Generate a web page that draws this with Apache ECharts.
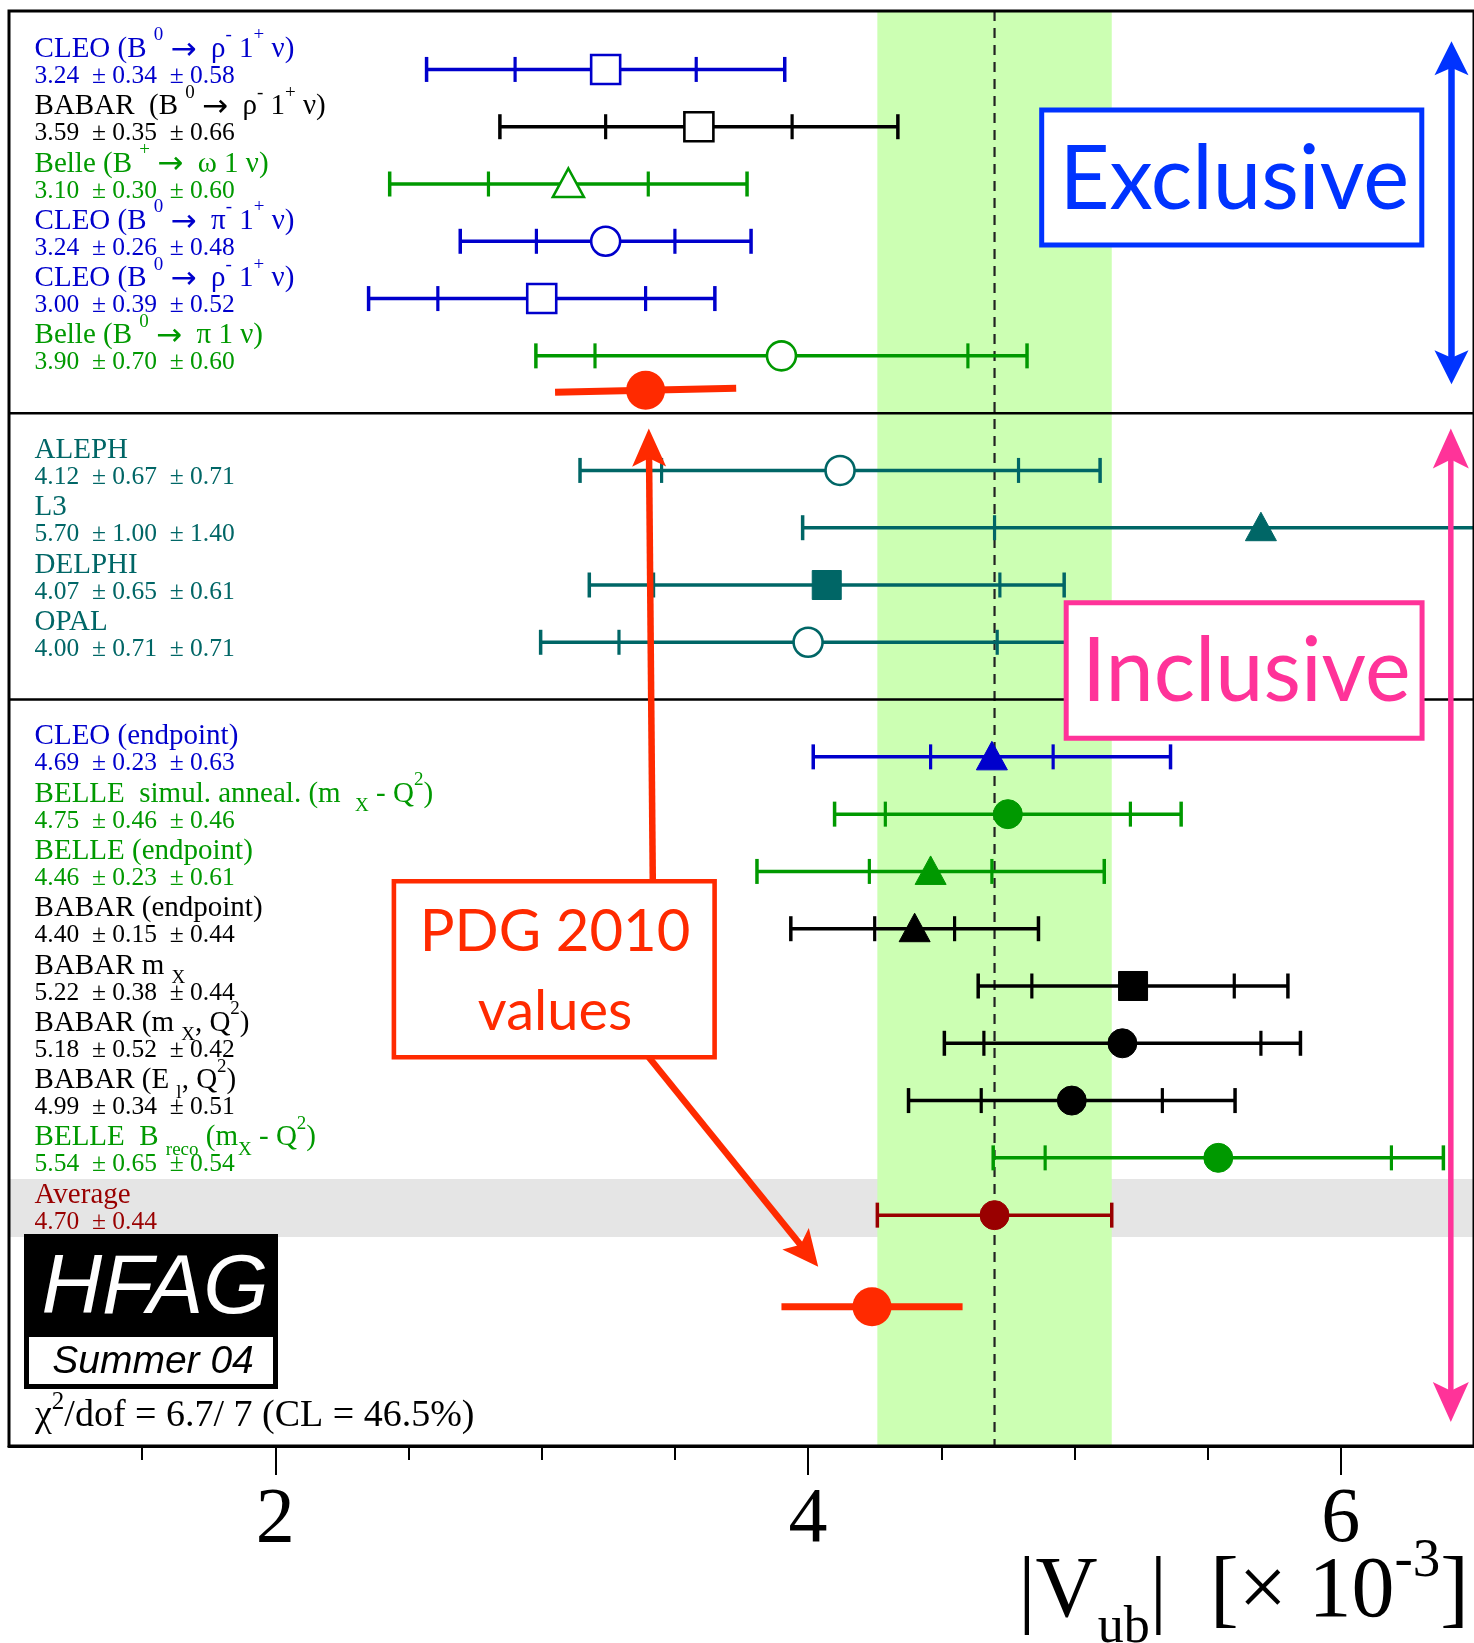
<!DOCTYPE html>
<html>
<head>
<meta charset="utf-8">
<title>|Vub| summary</title>
<script src="https://cdn.jsdelivr.net/npm/echarts@6/dist/echarts.min.js"></script>
<style>
  html, body { margin: 0; padding: 0; background: #fff; }
  #chart { width: 1474px; height: 1643px; }
</style>
</head>
<body>
<div id="chart"></div>
<script>
// ---- measurements (|Vub| in units of 10^-3: central, stat, syst) ----
const exclusiveNames = [
  'CLEO (B {s|0} {a|→}  ρ{s|-} 1{s|+} ν)',
  'BABAR  (B {s|0} {a|→}  ρ{s|-} 1{s|+} ν)',
  'Belle (B {s|+} {a|→}  ω 1 ν)',
  'CLEO (B {s|0} {a|→}  π{s|-} 1{s|+} ν)',
  'CLEO (B {s|0} {a|→}  ρ{s|-} 1{s|+} ν)',
  'Belle (B {s|0} {a|→}  π 1 ν)'
];
const exclusiveCentral = [3.24, 3.59, 3.10, 3.24, 3.00, 3.90];
const exclusiveStat    = [0.34, 0.35, 0.30, 0.26, 0.39, 0.70];
const exclusiveSyst    = [0.58, 0.66, 0.60, 0.48, 0.52, 0.60];

const lepNames   = ['ALEPH', 'L3', 'DELPHI', 'OPAL'];
const lepCentral = [4.12, 5.70, 4.07, 4.00];
const lepStat    = [0.67, 1.00, 0.65, 0.71];
const lepSyst    = [0.71, 1.40, 0.61, 0.71];

const bfactoryNames = [
  'CLEO (endpoint)',
  'BELLE  simul. anneal. (m  {b|X} - Q{s|2})',
  'BELLE (endpoint)',
  'BABAR (endpoint)',
  'BABAR m {b|X}',
  'BABAR (m {b|X}, Q{s|2})',
  'BABAR (E {b|l}, Q{s|2})',
  'BELLE  B {b|reco} (m{b|X} - Q{s|2})'
];
const bfactoryCentral = [4.69, 4.75, 4.46, 4.40, 5.22, 5.18, 4.99, 5.54];
const bfactoryStat    = [0.23, 0.46, 0.23, 0.15, 0.38, 0.52, 0.34, 0.65];
const bfactorySyst    = [0.63, 0.46, 0.61, 0.44, 0.44, 0.42, 0.51, 0.54];

const averageName = 'Average';
const averageCentral = 4.70;
const averageError = 0.44;

const pdgExclusive = [3.39, 0.34];
const pdgInclusive = [4.24, 0.34];

const xTickLabels = [2, 4, 6];
const xMinorTicks = [1.5, 2.5, 3, 3.5, 4.5, 5, 5.5];

// ---- styles ----
const BLUE = '#0000cc', GREEN = '#009900', BLACK = '#000000', TEAL = '#006666', DARKRED = '#990000';
const PDGRED = '#ff2a00', EXCLBLUE = '#0033ff', INCLPINK = '#ff3399';
const SERIF = '"Liberation Serif", "Times New Roman", serif';
const SANS = 'Lato, "Open Sans", sans-serif';

const exclusiveColors  = [BLUE, BLACK, GREEN, BLUE, BLUE, GREEN];
const exclusiveMarkers = ['openSquare', 'openSquare', 'openTriangle', 'openCircle', 'openSquare', 'openCircle'];
const lepColors  = [TEAL, TEAL, TEAL, TEAL];
const lepMarkers = ['openCircle', 'filledTriangle', 'filledSquare', 'openCircle'];
const bfactoryColors  = [BLUE, GREEN, GREEN, BLACK, BLACK, BLACK, BLACK, GREEN];
const bfactoryMarkers = ['filledTriangle', 'filledCircle', 'filledTriangle', 'filledTriangle',
                         'filledSquare', 'filledCircle', 'filledCircle', 'filledCircle'];

// ---- assemble rows: groups are separated by one empty row holding a divider ----
const fmt = v => v.toFixed(2);
const entries = [];
let row = 0;
function addGroup(names, central, stat, syst, colors, markers) {
  names.forEach((n, i) => {
    entries.push({
      name: n, c: central[i], stat: stat[i],
      tot: Math.sqrt(stat[i] * stat[i] + syst[i] * syst[i]),
      value: fmt(central[i]) + '  ± ' + fmt(stat[i]) + '  ± ' + fmt(syst[i]),
      color: colors[i], marker: markers[i], row: row++
    });
  });
}
addGroup(exclusiveNames, exclusiveCentral, exclusiveStat, exclusiveSyst, exclusiveColors, exclusiveMarkers);
const exclusiveEndRow = row; row++;
addGroup(lepNames, lepCentral, lepStat, lepSyst, lepColors, lepMarkers);
const lepEndRow = row; row++;
addGroup(bfactoryNames, bfactoryCentral, bfactoryStat, bfactorySyst, bfactoryColors, bfactoryMarkers);
const averageRow = row;
entries.push({
  name: averageName, c: averageCentral, stat: null, tot: averageError,
  value: fmt(averageCentral) + '  ± ' + fmt(averageError),
  color: DARKRED, marker: 'filledCircle', row: averageRow
});

const X_MIN = 1, X_MAX = 6.5, Y_MIN = -1.02, Y_MAX = 24.03;
const LABEL_X = 1.096;

// ---- drawing helpers ----
function markerShape(kind, x, y, color) {
  const open = kind.indexOf('open') === 0;
  const style = open ? { fill: '#fff', stroke: color, lineWidth: 2.6 }
                     : { fill: color, stroke: color, lineWidth: 1 };
  if (kind.endsWith('Square')) {
    return { type: 'rect', shape: { x: x - 14.5, y: y - 14.5, width: 29, height: 29 }, style };
  }
  if (kind.endsWith('Triangle')) {
    return { type: 'polygon', shape: { points: [[x, y - 15.5], [x + 15.5, y + 13], [x - 15.5, y + 13]] }, style };
  }
  return { type: 'circle', shape: { cx: x, cy: y, r: 14.5 }, style };
}

function vtick(x, y, half, color, w) {
  return { type: 'line', shape: { x1: x, y1: y - half, x2: x, y2: y + half }, style: { stroke: color, lineWidth: w } };
}

function arrowParts(p0, p1, color, width, headLen, headW, bothEnds) {
  const dx = p1[0] - p0[0], dy = p1[1] - p0[1], L = Math.hypot(dx, dy);
  const ux = dx / L, uy = dy / L, nx = -uy, ny = ux;
  function head(tip, sx, sy) {
    const bx = tip[0] - sx * headLen, by = tip[1] - sy * headLen;
    const mx = tip[0] - sx * headLen * 0.78, my = tip[1] - sy * headLen * 0.78;
    return { type: 'polygon', shape: { points: [tip, [bx + nx * headW / 2, by + ny * headW / 2], [mx, my], [bx - nx * headW / 2, by - ny * headW / 2]] },
             style: { fill: color } };
  }
  const s = bothEnds ? [p0[0] + ux * headLen * 0.7, p0[1] + uy * headLen * 0.7] : p0;
  const e = [p1[0] - ux * headLen * 0.7, p1[1] - uy * headLen * 0.7];
  const parts = [{ type: 'line', shape: { x1: s[0], y1: s[1], x2: e[0], y2: e[1] }, style: { stroke: color, lineWidth: width } }];
  parts.push(head(p1, ux, uy));
  if (bothEnds) parts.push(head(p0, -ux, -uy));
  return parts;
}

// ---- series renderers ----
function renderBackground(params, api) {
  const cs = params.coordSys;
  const left = cs.x, right = cs.x + cs.width, top = cs.y, bottom = cs.y + cs.height;
  const yAvgTop = api.coord([averageCentral, averageRow - 0.63])[1];
  const yAvgBot = api.coord([averageCentral, averageRow + 0.38])[1];
  const xBandL = api.coord([averageCentral - averageError, 0])[0];
  const xBandR = api.coord([averageCentral + averageError, 0])[0];
  const xAvg = api.coord([averageCentral, 0])[0];
  const ySep1 = api.coord([averageCentral, exclusiveEndRow])[1];
  const ySep2 = api.coord([averageCentral, lepEndRow])[1];
  return {
    type: 'group',
    children: [
      { type: 'rect', shape: { x: left, y: yAvgTop, width: right - left, height: yAvgBot - yAvgTop }, style: { fill: '#e5e5e5' } },
      { type: 'rect', shape: { x: xBandL, y: top, width: xBandR - xBandL, height: bottom - top }, style: { fill: '#ccffb3' } },
      { type: 'line', shape: { x1: xAvg, y1: top, x2: xAvg, y2: bottom }, style: { stroke: '#222', lineWidth: 2.2, lineDash: [10, 7] } },
      { type: 'line', shape: { x1: left, y1: ySep1, x2: right, y2: ySep1 }, style: { stroke: '#000', lineWidth: 2.5 } },
      { type: 'line', shape: { x1: left, y1: ySep2, x2: right, y2: ySep2 }, style: { stroke: '#000', lineWidth: 2.5 } }
    ]
  };
}

function renderMeasurement(params, api) {
  const e = entries[params.dataIndex];
  const p = api.coord([api.value(0), api.value(1)]);
  const xc = p[0], y = p[1];
  const xlo = api.coord([e.c - e.tot, e.row])[0];
  const xhi = api.coord([e.c + e.tot, e.row])[0];
  const kids = [
    { type: 'line', shape: { x1: xlo, y1: y, x2: xhi, y2: y }, style: { stroke: e.color, lineWidth: 3.5 } },
    vtick(xlo, y, 12.5, e.color, 3.5),
    vtick(xhi, y, 12.5, e.color, 3.5)
  ];
  if (e.stat != null) {
    kids.push(vtick(api.coord([e.c - e.stat, e.row])[0], y, 12.5, e.color, 3.2));
    kids.push(vtick(api.coord([e.c + e.stat, e.row])[0], y, 12.5, e.color, 3.2));
  }
  kids.push(markerShape(e.marker, xc, y, e.color));
  return { type: 'group', children: kids };
}

function renderLabel(params, api) {
  const e = entries[params.dataIndex];
  const xl = api.coord([LABEL_X, e.row])[0];
  const yn = api.coord([LABEL_X, e.row - 0.35])[1];
  const yv = api.coord([LABEL_X, e.row + 0.12])[1];
  const rich = {
    s: { fontSize: 19, fontFamily: SERIF, fill: e.color, padding: [0, 0, 28, 0] },
    b: { fontSize: 19, fontFamily: SERIF, fill: e.color, padding: [24, 0, 0, 0] },
    a: { fontSize: 31, fontFamily: '"DejaVu Sans", sans-serif', fill: e.color, padding: [3, 0, 0, 0] }
  };
  return {
    type: 'group',
    children: [
      { type: 'text', style: { text: e.name, x: xl, y: yn, fill: e.color, fontSize: 29, fontFamily: SERIF,
                               align: 'left', verticalAlign: 'middle', rich } },
      { type: 'text', style: { text: e.value, x: xl, y: yv, fill: e.color, fontSize: 25.5, fontFamily: SERIF,
                               align: 'left', verticalAlign: 'middle' } }
    ]
  };
}

const pdgPoints = [
  { c: pdgExclusive[0], err: pdgExclusive[1], row: exclusiveEndRow - 0.4, tilt: 0.035 },
  { c: pdgInclusive[0], err: pdgInclusive[1], row: averageRow + 1.6, tilt: 0 }
];
function renderPdg(params, api) {
  const d = pdgPoints[params.dataIndex];
  const l = api.coord([d.c - d.err, d.row + d.tilt]);
  const r = api.coord([d.c + d.err, d.row - d.tilt]);
  const m = api.coord([api.value(0), api.value(1)]);
  return {
    type: 'group',
    children: [
      { type: 'line', shape: { x1: l[0], y1: l[1], x2: r[0], y2: r[1] }, style: { stroke: PDGRED, lineWidth: 7 } },
      { type: 'circle', shape: { cx: m[0], cy: m[1], r: 19.5 }, style: { fill: PDGRED } }
    ]
  };
}

function boxWithText(api, x0, x1, k0, k1, color, lw) {
  const a = api.coord([x0, k0]), b = api.coord([x1, k1]);
  return { type: 'rect', shape: { x: a[0], y: a[1], width: b[0] - a[0], height: b[1] - a[1] },
           style: { fill: '#fff', stroke: color, lineWidth: lw } };
}
function boxText(api, x, k, text, size, color, sx) {
  const p = api.coord([x, k]);
  return { type: 'text', x: p[0], y: p[1], scaleX: sx || 1, scaleY: 1,
           style: { text, x: 0, y: 0, align: 'center', verticalAlign: 'middle', fontSize: size, fontFamily: SANS, fill: color } };
}

function renderAnnotations(params, api) {
  const kids = [];
  // exclusive / inclusive labels
  kids.push(boxWithText(api, 4.877, 6.304, 0.71, 3.066, EXCLBLUE, 5));
  kids.push(boxText(api, 5.60, 1.93, 'Exclusive', 90, EXCLBLUE, 0.965));
  kids.push(boxWithText(api, 4.969, 6.305, 9.309, 11.677, INCLPINK, 5));
  kids.push(boxText(api, 5.645, 10.52, 'Inclusive', 90, INCLPINK, 0.96));
  // PDG box
  kids.push(boxWithText(api, 2.445, 3.649, 14.172, 17.243, PDGRED, 4.6));
  kids.push(boxText(api, 3.05, 15.07, 'PDG 2010', 58, PDGRED, 1));
  kids.push(boxText(api, 3.05, 16.45, 'values', 56, PDGRED, 1));
  // arrows from the PDG box to the PDG points
  kids.push(...arrowParts(api.coord([3.417, 14.172]), api.coord([3.402, 6.27]), PDGRED, 6.5, 38, 34, false));
  kids.push(...arrowParts(api.coord([3.402, 17.243]), api.coord([4.038, 20.9]), PDGRED, 6.5, 36, 34, false));
  // range arrows for the exclusive and inclusive blocks
  kids.push(...arrowParts(api.coord([6.4155, -0.494]), api.coord([6.4155, 5.496]), EXCLBLUE, 6.5, 34, 34, true));
  kids.push(...arrowParts(api.coord([6.413, 6.266]), api.coord([6.413, 23.61]), INCLPINK, 5.5, 40, 36, true));
  return { type: 'group', children: kids };
}

// ---- chart ----
const chart = echarts.init(document.getElementById('chart'), null, { renderer: 'canvas', width: 1474, height: 1643 });

const option = {
  animation: false,
  backgroundColor: '#ffffff',
  grid: { left: 9, top: 11, width: 1468, height: 1435, show: true, borderColor: '#000', borderWidth: 3,
          backgroundColor: 'transparent', z: 10 },
  xAxis: [
    { type: 'value', min: X_MIN, max: X_MAX, position: 'bottom', z: 10,
      axisLine: { show: true, onZero: false, lineStyle: { color: '#000', width: 3 } },
      axisTick: { show: true, length: 14, lineStyle: { color: '#000', width: 2 }, customValues: xMinorTicks },
      axisLabel: { show: false }, splitLine: { show: false } },
    { type: 'value', min: X_MIN, max: X_MAX, position: 'bottom', z: 10,
      axisLine: { show: false, onZero: false },
      axisTick: { show: true, length: 29, lineStyle: { color: '#000', width: 2 }, customValues: xTickLabels },
      axisLabel: { show: true, customValues: xTickLabels, margin: 36, fontSize: 78, fontFamily: SERIF, color: '#000' },
      splitLine: { show: false } }
  ],
  yAxis: { type: 'value', min: Y_MIN, max: Y_MAX, inverse: true, show: false },
  series: [
    { type: 'custom', name: 'band', z: 1, silent: true, clip: true, renderItem: renderBackground,
      data: [[averageCentral, averageRow]] },
    { type: 'custom', name: 'measurements', z: 2, silent: true, clip: true, renderItem: renderMeasurement,
      data: entries.map(e => [e.c, e.row]) },
    { type: 'custom', name: 'PDG', z: 3, silent: true, clip: true, renderItem: renderPdg,
      data: pdgPoints.map(d => [d.c, d.row]) },
    { type: 'custom', name: 'annotations', z: 4, silent: true, clip: true, renderItem: renderAnnotations,
      data: [[averageCentral, averageRow]] },
    { type: 'custom', name: 'labels', z: 5, silent: true, clip: true, renderItem: renderLabel,
      data: entries.map(e => [LABEL_X, e.row]) }
  ],
  graphic: [
    { type: 'rect', z: 20, shape: { x: 24, y: 1234, width: 254, height: 155 }, style: { fill: '#000' } },
    { type: 'rect', z: 21, shape: { x: 29, y: 1337, width: 244, height: 47 }, style: { fill: '#fff' } },
    { type: 'text', z: 22, style: { text: 'HFAG', x: 155, y: 1290, align: 'center', verticalAlign: 'middle',
        fontSize: 84, fontStyle: 'italic', fontFamily: '"Liberation Sans", Arial, sans-serif', fill: '#fff' } },
    { type: 'text', z: 22, style: { text: 'Summer 04', x: 153, y: 1362, align: 'center', verticalAlign: 'middle',
        fontSize: 39, fontStyle: 'italic', fontFamily: '"Liberation Sans", Arial, sans-serif', fill: '#000' } },
    { type: 'text', z: 22, style: { text: 'χ{s|2}/dof = 6.7/ 7 (CL = 46.5%)', x: 35, y: 1416, align: 'left', verticalAlign: 'middle',
        fontSize: 38, fontFamily: SERIF, fill: '#000',
        rich: { s: { fontSize: 25, fontFamily: SERIF, fill: '#000', padding: [0, 0, 28, 0] } } } },
    { type: 'text', z: 22, style: { text: '|V{sub|ub}|  [× 10{sup|-3}]', x: 1469, y: 1593, align: 'right', verticalAlign: 'middle',
        fontSize: 86, fontFamily: SERIF, fill: '#000',
        rich: { sub: { fontSize: 52, fontFamily: SERIF, fill: '#000', padding: [70, 0, 0, 0] },
                sup: { fontSize: 55, fontFamily: SERIF, fill: '#000', padding: [0, 0, 62, 0] } } } }
  ]
};
chart.setOption(option);
</script>
</body>
</html>
